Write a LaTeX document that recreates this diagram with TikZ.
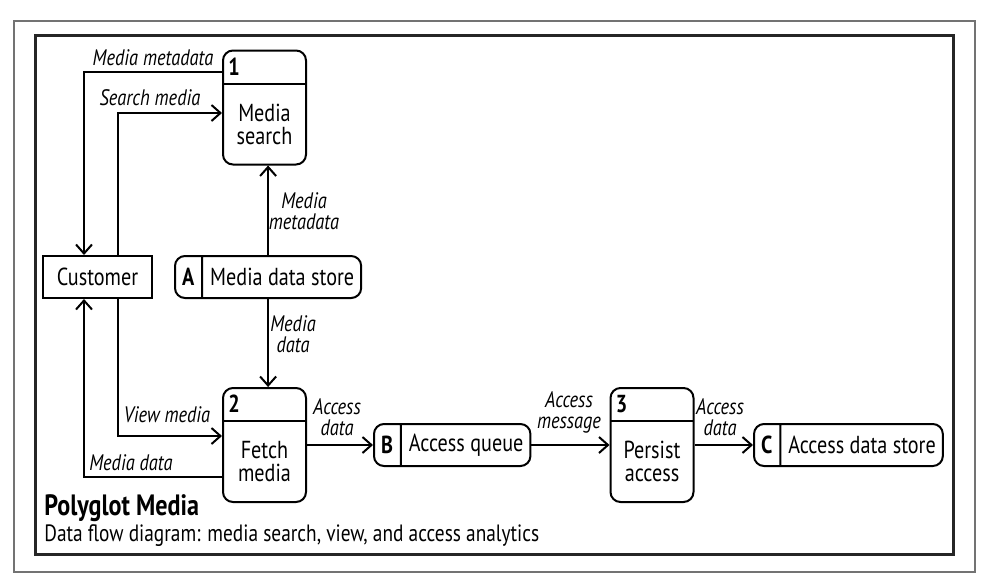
\documentclass[tikz,border=0pt]{standalone}
\usepackage{fontspec}
\setmainfont[FakeStretch=0.82]{PT Sans}
\usetikzlibrary{shapes.multipart,arrows.meta}

\begin{document}
\begin{tikzpicture}[x=0.5pt,y=-0.5pt,
        flow/.style={-{Straight Barb[length=4.5pt,width=8pt]}, line width=1pt},
        lbl/.style={font=\fontsize{11.2}{10.5}\selectfont\itshape, align=center, inner sep=0pt},
        boxtext/.style={font=\fontsize{12.3}{11.5}\selectfont, align=center},
        entity/.style={boxtext, draw, line width=1pt, minimum width=54.5pt, minimum height=21pt, inner sep=0pt},
        store/.style={boxtext, draw, line width=1pt, rounded corners=5pt, rectangle split, rectangle split horizontal,
            rectangle split parts=2, minimum height=21pt, inner xsep=3.5pt, inner ysep=0pt, anchor=west},
        proc/.style={draw, line width=1pt, rounded corners=5pt, minimum width=41.5pt, minimum height=57pt, inner sep=0pt,
            path picture={\draw[line width=1pt] ([yshift=-16.5pt]path picture bounding box.north west)
                -- ([yshift=-16.5pt]path picture bounding box.north east);}},
        procnum/.style={font=\fontsize{12.3}{13.5}\selectfont\bfseries, anchor=north west, minimum height=16.5pt, inner xsep=3pt, inner ysep=0pt},
        proctext/.style={boxtext, inner sep=0pt}]
    \useasboundingbox (0,0) rectangle (988,584);
    \draw[black!55, line width=0.75pt] (14,21) rectangle (975,572);
    \draw[black!85, line width=1.5pt] (35,35) rectangle (953,554);

    % processes
    \node[proc] (p1) at (264.5,107.5) {};
    \node[procnum] (p1n) at (p1.north west) {1};
    \node[proctext] (p1t) at ([yshift=-8.25pt]p1.center) {Media\\search};
    \node[proc] (p2) at (264.5,445) {};
    \node[procnum] (p2n) at (p2.north west) {2};
    \node[proctext] (p2t) at ([yshift=-8.25pt]p2.center) {Fetch\\media};
    \node[proc] (p3) at (652,445) {};
    \node[procnum] (p3n) at (p3.north west) {3};
    \node[proctext] (p3t) at ([yshift=-8.25pt]p3.center) {Persist\\access};

    % entity and stores
    \node[entity] (cust) at (97.5,277) {Customer};
    \node[store] (A) at (174,277) {\textbf{A}\nodepart{two}Media data store};
    \node[store] (B) at (373,445) {\textbf{B}\nodepart{two}Access queue};
    \node[store] (C) at (753,445) {\textbf{C}\nodepart{two}Access data store};

    % flows
    \coordinate (j1) at (84,72);
    \coordinate (j2) at (118,113);
    \coordinate (j3) at (118,436);
    \coordinate (j4) at (84,477);
    \draw[flow] (j1 -| p1.west) -| (cust.north -| j1);
    \draw[flow] (cust.north -| j2) |- (p1.west |- j2);
    \draw[flow] (A.north) -- (A.north |- p1.south);
    \draw[flow] (A.south) -- (A.south |- p2.north);
    \draw[flow] (cust.south -| j3) |- (p2.west |- j3);
    \draw[flow] (j4 -| p2.west) -| (cust.south -| j4);
    \draw[flow] (p2.east |- B.west) -- (B.west);
    \draw[flow] (B.east) -- (p3.west |- B.east);
    \draw[flow] (p3.east |- C.west) -- (C.west);

    % flow labels
    \node[lbl] (l1) at (153,58) {Media metadata};
    \node[lbl] (l2) at (150,98) {Search media};
    \node[lbl] (l3) at (304,211) {Media\\metadata};
    \node[lbl] (l4) at (293,334) {Media\\data};
    \node[lbl] (l5) at (167,415) {View media};
    \node[lbl] (l6) at (131,463) {Media data};
    \node[lbl] (l7) at (337,417) {Access\\data};
    \node[lbl] (l8) at (569,412) {Access\\message};
    \node[lbl] (l9) at (720,417) {Access\\data};

    % caption
    \node[anchor=base west, inner sep=0pt, font=\fontsize{14.7}{16}\selectfont\bfseries] (title) at (44,515) {Polyglot Media};
    \node[anchor=base west, inner sep=0pt, font=\fontsize{11.8}{13}\selectfont] (subtitle) at (44,541) {Data flow diagram: media search, view, and access analytics};
\end{tikzpicture}
\end{document}
